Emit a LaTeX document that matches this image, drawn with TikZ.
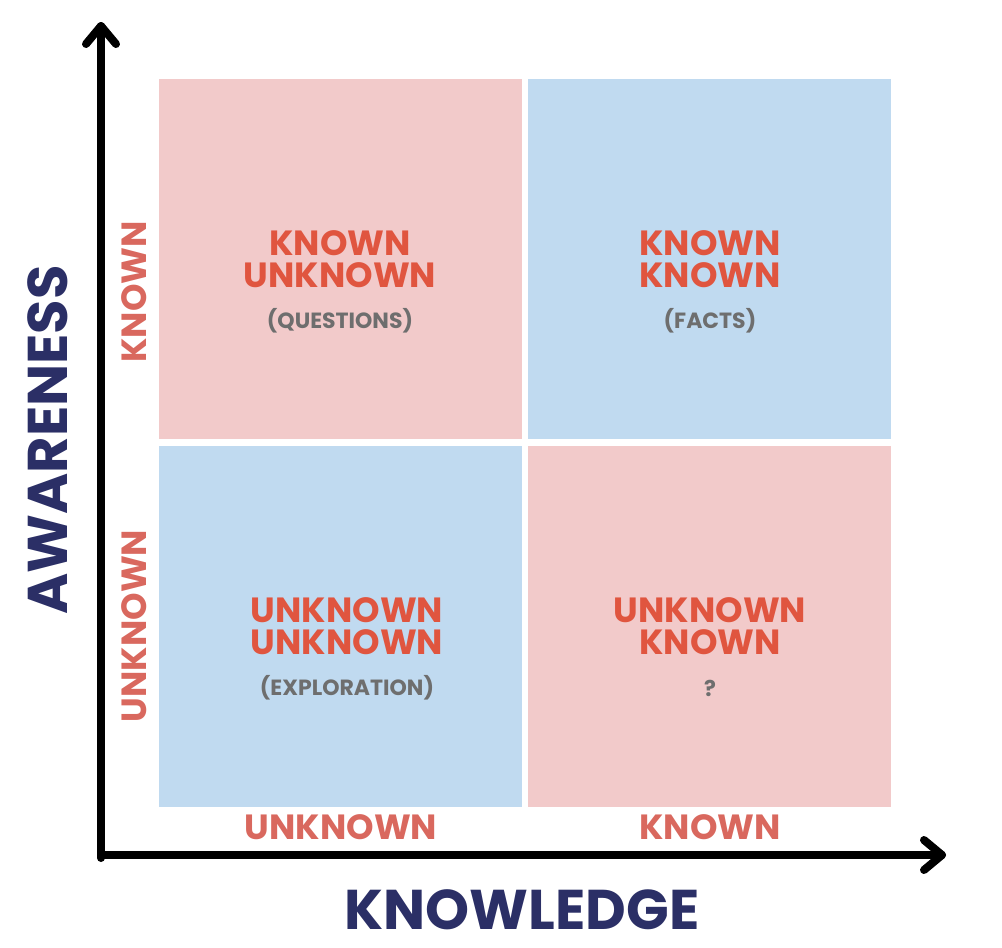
\documentclass[tikz,border=0pt]{standalone}
\usepackage{fontspec}
\setmainfont{Poppins}
\definecolor{pinkbox}{HTML}{F2CACA}
\definecolor{bluebox}{HTML}{C0DAF0}
\definecolor{redtxt}{HTML}{E0553F}
\definecolor{axred}{HTML}{D9685E}
\definecolor{graytxt}{HTML}{6E6E6E}
\definecolor{navy}{HTML}{2B2F66}
\tikzset{
 quad/.style={draw=none},
 main/.style={text=redtxt,font=\fontsize{35}{32}\selectfont\bfseries,align=center},
 sub/.style={text=graytxt,font=\fontsize{22}{24}\selectfont\bfseries},
 axlab/.style={text=axred,font=\fontsize{35}{36}\selectfont\bfseries},
 title/.style={text=navy,font=\fontsize{56}{56}\selectfont\bfseries},
 axis/.style={line width=8pt,line cap=round,line join=round}
}
\begin{document}
\begin{tikzpicture}[x=1pt,y=-1pt]
\useasboundingbox (0,0) rectangle (1002,948);
\fill[pinkbox] (159,79) rectangle (522,439);
\fill[bluebox] (528,79) rectangle (891,439);
\fill[bluebox] (159,446) rectangle (522,807);
\fill[pinkbox] (528,446) rectangle (891,807);
\node[main] (a) at (340,259) {KNOWN\\UNKNOWN};
\node[sub] (as) at (340,321) {(QUESTIONS)};
\node[main] (b) at (710,259) {KNOWN\\KNOWN};
\node[sub] (bs) at (710,321) {(FACTS)};
\node[main] (c) at (347,626) {UNKNOWN\\UNKNOWN};
\node[sub] (cs) at (347,688) {(EXPLORATION)};
\node[main] (d) at (710,626) {UNKNOWN\\KNOWN};
\node[sub] (ds) at (710,688) {?};
\node[axlab] (x1) at (341,827) {UNKNOWN};
\node[axlab] (x2) at (710,827) {KNOWN};
\node[axlab,rotate=90] (y1) at (134,292) {KNOWN};
\node[axlab,rotate=90] (y2) at (134,626) {UNKNOWN};
\node[title] (kx) at (522,910) {KNOWLEDGE};
\node[title,rotate=90] (ky) at (48,440) {AWARENESS};
\coordinate (o) at (101,855);
\coordinate (ty) at (101,26);
\coordinate (tx) at (942,855);
\draw[axis] (o|-0,858) -- (ty);
\draw[axis] (o) -- (tx);
\draw[axis] (86,44) -- (ty) -- (116,44);
\draw[axis] (924,840) -- (tx) -- (924,870);
\end{tikzpicture}
\end{document}
